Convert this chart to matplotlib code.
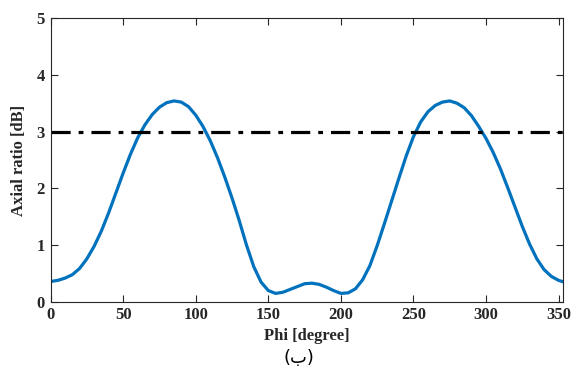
import numpy as np
import matplotlib.pyplot as plt

# axial ratio vs phi
phi = np.arange(0, 360, 5)
axial_ratio = [0.36, 0.38, 0.42, 0.48, 0.59, 0.76, 0.98, 1.25, 1.57, 1.92,
               2.27, 2.60, 2.89, 3.12, 3.30, 3.43, 3.51, 3.54, 3.52, 3.44,
               3.29, 3.09, 2.84, 2.54, 2.20, 1.83, 1.43, 1.00, 0.62, 0.35,
               0.20, 0.15, 0.17, 0.22, 0.27, 0.32, 0.33, 0.31, 0.26, 0.20,
               0.15, 0.16, 0.23, 0.39, 0.64, 0.99, 1.38, 1.78, 2.18, 2.57,
               2.91, 3.17, 3.35, 3.46, 3.52, 3.54, 3.50, 3.42, 3.28, 3.09,
               2.88, 2.63, 2.34, 2.01, 1.67, 1.33, 1.02, 0.76, 0.57, 0.45,
               0.38, 0.34]
threshold = 3
x_ticks = [0, 50, 100, 150, 200, 250, 300, 350]
y_ticks = [0, 1, 2, 3, 4, 5]

plt.rcParams['font.family'] = 'Liberation Serif'
plt.rcParams['font.weight'] = 'bold'

fig = plt.figure(figsize=(5.75, 3.76), dpi=100)
ax = fig.add_axes([0.088, 0.197, 0.891, 0.755])

ax.plot(phi, axial_ratio, color='#0072BD', lw=2.3)
ax.axhline(threshold, color='black', lw=2.3, linestyle=(0, (6, 2.5, 1.5, 2.5)))

ax.set_xlim(0, 353)
ax.set_ylim(0, 5)
ax.set_xticks(x_ticks)
ax.set_yticks(y_ticks)
ax.tick_params(direction='in', top=True, right=True, labelsize=12, length=5,
               width=0.8, colors='#262626', pad=4)
for lab in ax.get_xticklabels() + ax.get_yticklabels():
    lab.set_fontweight('bold')
for s in ax.spines.values():
    s.set_color('#262626')
    s.set_linewidth(0.8)

ax.set_xlabel('Phi [degree]', fontsize=12, fontweight='bold', color='#262626', labelpad=3)
ax.set_ylabel('Axial ratio [dB]', fontsize=12, fontweight='bold', color='#262626', labelpad=7)

fig.text(0.52, 0.048, '(ب)', ha='center', va='center', fontsize=13,
         family=['DejaVu Sans'], fontweight='normal')

fig.savefig('out.png', dpi=100)
